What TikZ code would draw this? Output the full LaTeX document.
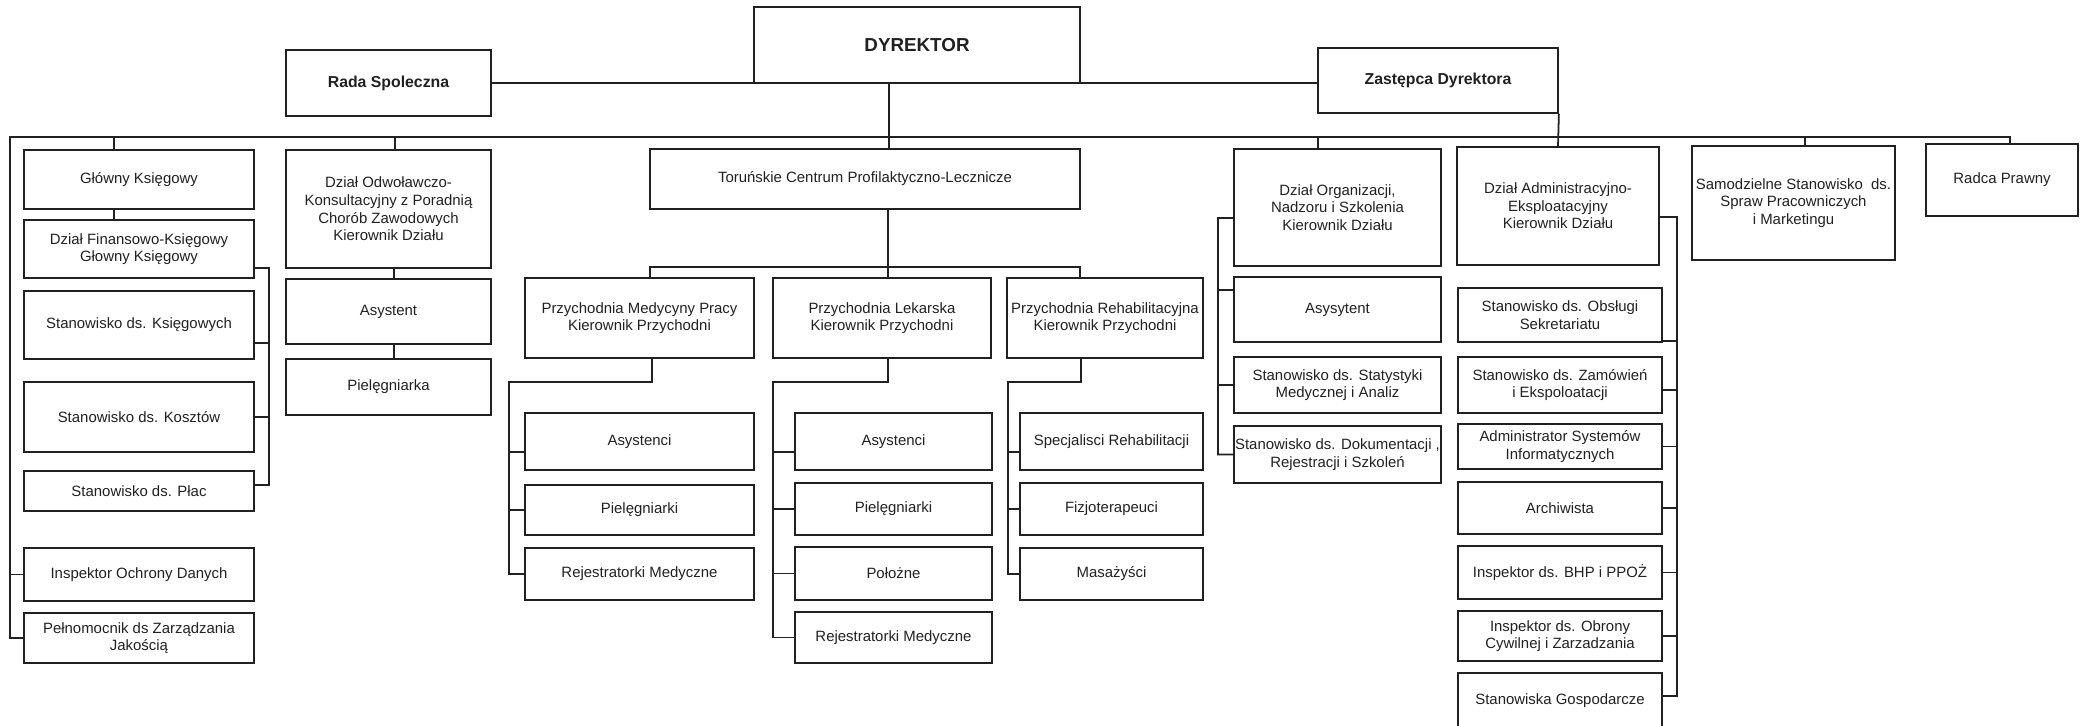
\documentclass[tikz,border=0pt]{standalone}
\usepackage{fontspec}
\setmainfont{Liberation Sans}
\usetikzlibrary{calc, positioning}
\definecolor{scanink}{rgb}{0.13, 0.13, 0.13}

\begin{document}
\begin{tikzpicture}[x=0.2mm, y=-0.2mm, line width=1pt, color=scanink,
                    box/.style={draw, rectangle, inner sep=0pt, align=center, font=\fontsize{8.5}{10}\selectfont},
                    headbox/.style={box, font=\fontsize{9}{11}\selectfont\bfseries}]
                    \path[fill=white, use as bounding box] (0,0) rectangle (2081,726);

                    \node[headbox, font=\fontsize{10.7}{12}\selectfont\bfseries, minimum width=65.2mm, minimum height=15.2mm] (dyr) at (917,45) {DYREKTOR};
                    \node[headbox, minimum width=41mm, minimum height=13.2mm] (rada) at (388.5,83) {Rada Spoleczna};
                    \node[headbox, minimum width=48mm, minimum height=13mm] (zast) at (1438,80.5) {Zastępca Dyrektora};

                    \node[box, minimum width=46mm, minimum height=11.8mm] (gk) at (139,179.5) {Główny Księgowy};
                    \node[box, minimum width=46mm, minimum height=11.6mm] (dfk) at (139,249) {Dział Finansowo-Księgowy\\Głowny Księgowy};
                    \node[box, minimum width=46mm, minimum height=13.6mm] (ksieg) at (139,325) {Stanowisko ds. Księgowych};
                    \node[box, minimum width=46mm, minimum height=14mm] (koszt) at (139,417) {Stanowisko ds. Kosztów};
                    \node[box, minimum width=46mm, minimum height=8mm] (plac) at (139,491) {Stanowisko ds. Płac};
                    \node[box, minimum width=46mm, minimum height=10.6mm] (iod) at (139,574.5) {Inspektor Ochrony Danych};
                    \node[box, minimum width=46mm, minimum height=10mm] (peln) at (139,638) {Pełnomocnik ds Zarządzania\\Jakością};

                    \node[box, minimum width=41mm, minimum height=23.6mm] (odw) at (388.5,209) {Dział Odwoławczo-\\Konsultacyjny z Poradnią\\Chorób Zawodowych\\Kierownik Działu};
                    \node[box, minimum width=41mm, minimum height=13mm] (asyst) at (388.5,311.5) {Asystent};
                    \node[box, minimum width=41mm, minimum height=11.2mm] (pielka) at (388.5,387) {Pielęgniarka};

                    \node[box, minimum width=86mm, minimum height=12mm] (tcpl) at (865,179) {Toruńskie Centrum Profilaktyczno-Lecznicze};
                    \node[box, minimum width=45.8mm, minimum height=16mm] (pmp) at (639.5,318) {Przychodnia Medycyny Pracy\\Kierownik Przychodni};
                    \node[box, minimum width=43.6mm, minimum height=16mm] (pl) at (882,318) {Przychodnia Lekarska\\Kierownik Przychodni};
                    \node[box, minimum width=39.2mm, minimum height=16mm] (pr) at (1105,318) {Przychodnia Rehabilitacyjna\\Kierownik Przychodni};

                    \node[box, minimum width=45.8mm, minimum height=11.4mm] (pmpa) at (639.5,441.5) {Asystenci};
                    \node[box, minimum width=45.8mm, minimum height=10mm] (pmpp) at (639.5,510) {Pielęgniarki};
                    \node[box, minimum width=45.8mm, minimum height=10.4mm] (pmpr) at (639.5,574) {Rejestratorki Medyczne};

                    \node[box, minimum width=39.4mm, minimum height=11.4mm] (pla) at (893.5,441.5) {Asystenci};
                    \node[box, minimum width=39.4mm, minimum height=10.4mm] (plp) at (893.5,509) {Pielęgniarki};
                    \node[box, minimum width=39.4mm, minimum height=10.6mm] (plpo) at (893.5,573.5) {Położne};
                    \node[box, minimum width=39.4mm, minimum height=10.2mm] (plr) at (893.5,637.5) {Rejestratorki Medyczne};

                    \node[box, minimum width=36.6mm, minimum height=11.4mm] (prs) at (1111.5,441.5) {Specjalisci Rehabilitacji};
                    \node[box, minimum width=36.6mm, minimum height=10.4mm] (prf) at (1111.5,509) {Fizjoterapeuci};
                    \node[box, minimum width=36.6mm, minimum height=10.4mm] (prm) at (1111.5,574) {Masażyści};

                    \node[box, minimum width=41.4mm, minimum height=23.4mm] (org) at (1337.5,207.5) {Dział Organizacji,\\Nadzoru i Szkolenia\\Kierownik Działu};
                    \node[box, minimum width=41.4mm, minimum height=13mm] (orga) at (1337.5,309.5) {Asysytent};
                    \node[box, minimum width=41.4mm, minimum height=11.2mm] (orgs) at (1337.5,385) {Stanowisko ds. Statystyki\\Medycznej i Analiz};
                    \node[box, minimum width=41.4mm, minimum height=11.4mm] (orgd) at (1337.5,454.5) {Stanowisko ds. Dokumentacji ,\\Rejestracji i Szkoleń};

                    \node[box, minimum width=40.4mm, minimum height=23.6mm] (da) at (1558,206) {Dział Administracyjno-\\Eksploatacyjny\\Kierownik Działu};
                    \node[box, minimum width=40.8mm, minimum height=10.8mm] (das) at (1560,315) {Stanowisko ds. Obsługi\\Sekretariatu};
                    \node[box, minimum width=40.8mm, minimum height=11.2mm] (daz) at (1560,385) {Stanowisko ds. Zamówień\\i Ekspoloatacji};
                    \node[box, minimum width=40.8mm, minimum height=9mm] (daa) at (1560,446.5) {Administrator Systemów\\Informatycznych};
                    \node[box, minimum width=40.8mm, minimum height=10.4mm] (dar) at (1560,508) {Archiwista};
                    \node[box, minimum width=40.8mm, minimum height=10.6mm] (dab) at (1560,572.5) {Inspektor ds. BHP i PPOŻ};
                    \node[box, minimum width=40.8mm, minimum height=10mm] (dao) at (1560,636) {Inspektor ds. Obrony\\Cywilnej i Zarzadzania};
                    \node[box, minimum width=40.8mm, minimum height=11.2mm] (dag) at (1560,701) {Stanowiska Gospodarcze};

                    \node[box, minimum width=40.6mm, minimum height=22.8mm] (sam) at (1793.5,203) {Samodzielne Stanowisko\ \ ds.\\Spraw Pracowniczych\\i Marketingu};
                    \node[box, minimum width=30.4mm, minimum height=14.4mm] (radca) at (2002,180) {Radca Prawny};

                    \coordinate (busL) at (10,137);
                    \coordinate (busR) at (2010,137);
                    \coordinate (finbar) at (269,268);
                    \coordinate (medbus) at (888,267);
                    \coordinate (pmpbar) at (509,382);
                    \coordinate (plbar) at (773,382);
                    \coordinate (prbar) at (1008,382);
                    \coordinate (orgbar) at (1218,218);
                    \coordinate (dabar) at (1677,217);

                    \draw (rada.east) -- (rada.east -| zast.west);
                    \draw ([xshift=-5.6mm]dyr.south) -- ([xshift=4.8mm]tcpl.north);
                    \draw (peln.west) -| (busL) -- (busR) -- (busR |- radca.north);
                    \draw (iod.west) -- (iod.west -| busL);
                    \draw (busL) -| ([xshift=-5mm]gk.north);
                    \draw (busL) -| ([xshift=1.3mm]odw.north);
                    \draw (busL) -| ([xshift=-3.9mm]org.north);
                    \draw (busL) -| ([xshift=2.3mm]sam.north);
                    \draw (zast.south east) -- (da.north);

                    \draw ([xshift=-5mm]gk.south) -- ([xshift=-5mm]dfk.north);
                    \draw ([yshift=-3.8mm]dfk.east) -- (finbar) |- ([yshift=1.2mm]plac.east);
                    \draw ([yshift=-3.6mm]ksieg.east) -- ([yshift=-3.6mm]ksieg.east -| finbar);
                    \draw (koszt.east) -- (koszt.east -| finbar);

                    \draw ([xshift=1.1mm]odw.south) -- ([xshift=1.1mm]asyst.north);
                    \draw ([xshift=1.1mm]asyst.south) -- ([xshift=1.1mm]pielka.north);

                    \draw ([xshift=4.6mm]tcpl.south) -- ([xshift=1.2mm]pl.north);
                    \draw ([xshift=2.1mm]pmp.north) |- (medbus) -| ([xshift=-5mm]pr.north);

                    \draw ([xshift=2.5mm]pmp.south) |- (pmpbar) |- (pmpr.west);
                    \draw ([yshift=-2.1mm]pmpa.west) -- ([yshift=-2.1mm]pmpa.west -| pmpbar);
                    \draw (pmpp.west) -- (pmpp.west -| pmpbar);

                    \draw ([xshift=1.2mm]pl.south) |- (plbar) |- (plr.west);
                    \draw ([yshift=-2.1mm]pla.west) -- ([yshift=-2.1mm]pla.west -| plbar);
                    \draw (plp.west) -- (plp.west -| plbar);
                    \draw (plpo.west) -- (plpo.west -| plbar);

                    \draw ([xshift=-4.8mm]pr.south) |- (prbar) |- (prm.west);
                    \draw ([yshift=-2.1mm]prs.west) -- ([yshift=-2.1mm]prs.west -| prbar);
                    \draw (prf.west) -- (prf.west -| prbar);

                    \draw ([yshift=-2.1mm]org.west) -- (orgbar) |- (orgd.west);
                    \draw ([yshift=3.9mm]orga.west) -- ([yshift=3.9mm]orga.west -| orgbar);
                    \draw (orgs.west) -- (orgs.west -| orgbar);

                    \draw ([yshift=-2.2mm]da.east) -- (dabar) |- ([yshift=1mm]dag.east);
                    \draw ([yshift=0.4mm]das.south east) -- ([yshift=0.4mm]das.south east -| dabar);
                    \draw ([yshift=-1mm]daz.east) -- ([yshift=-1mm]daz.east -| dabar);
                    \draw (daa.east) -- (daa.east -| dabar);
                    \draw (dar.east) -- (dar.east -| dabar);
                    \draw (dab.east) -- (dab.east -| dabar);
                    \draw (dao.east) -- (dao.east -| dabar);
            \end{tikzpicture}
\end{document}
